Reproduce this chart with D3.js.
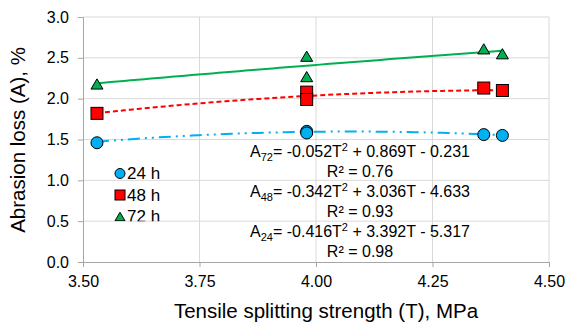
<!DOCTYPE html>
<html lang="en">
<head>
<meta charset="UTF-8">
<title>Abrasion loss vs tensile splitting strength</title>
<script src="https://d3js.org/d3.v7.min.js"></script>
<style>
    body { margin: 0; background: #fff; }
    svg { display: block; font-family: Arial, "Liberation Sans", sans-serif; }
</style>
</head>
<body>
<svg id="chart" width="566" height="324"></svg>
<script>
    // data
    const strength = [3.53, 3.98, 3.98, 4.36, 4.40];
    const loss24 = [1.46, 1.60, 1.58, 1.56, 1.55];
    const loss48 = [1.82, 2.08, 1.99, 2.13, 2.10];
    const loss72 = [2.18, 2.52, 2.27, 2.61, 2.55];

    // trend line coefficients from the equations [a, b, c] for aT^2 + bT + c
    const fit24 = [-0.416, 3.392, -5.317];
    const fit48 = [-0.342, 3.036, -4.633];
    const fit72 = [-0.052, 0.869, -0.231];
    const rSquared = ['0.98', '0.93', '0.76'];

    const xTicks = [3.50, 3.75, 4.00, 4.25, 4.50];
    const yTicks = [0.0, 0.5, 1.0, 1.5, 2.0, 2.5, 3.0];

    const width = 566, height = 324;
    const margin = {top: 17, right: 17, bottom: 62, left: 83};

    const svg = d3.select('#chart');

    const x = d3.scaleLinear().domain([3.5, 4.5]).range([margin.left, width - margin.right]);
    const y = d3.scaleLinear().domain([0, 3]).range([height - margin.bottom, margin.top]);

    // grid
    svg.append('g').selectAll('line')
        .data(yTicks.slice(1))
        .enter().append('line')
        .attr('x1', x(3.5)).attr('x2', x(4.5))
        .attr('y1', d => y(d)).attr('y2', d => y(d))
        .attr('stroke', '#d9d9d9').attr('stroke-width', 1);
    svg.append('g').selectAll('line')
        .data(xTicks.slice(1))
        .enter().append('line')
        .attr('x1', d => x(d)).attr('x2', d => x(d))
        .attr('y1', y(0)).attr('y2', y(3))
        .attr('stroke', '#d9d9d9').attr('stroke-width', 1);

    // axes
    const xAxis = svg.append('g')
        .attr('transform', `translate(0,${y(0)})`)
        .call(d3.axisBottom(x).tickValues(xTicks).tickFormat(d3.format('.2f')).tickSizeOuter(0).tickSize(5).tickPadding(9));
    const yAxis = svg.append('g')
        .attr('transform', `translate(${x(3.5)},0)`)
        .call(d3.axisLeft(y).tickValues(yTicks).tickFormat(d3.format('.1f')).tickSizeOuter(0).tickSize(5).tickPadding(9));
    [xAxis, yAxis].forEach(g => {
        g.select('.domain').attr('stroke', '#a6a6a6');
        g.selectAll('.tick line').attr('stroke', '#a6a6a6');
        g.selectAll('.tick text').attr('fill', '#000').style('font-size', '16px');
    });

    // axis titles
    svg.append('text')
        .attr('x', 326).attr('y', 318)
        .attr('text-anchor', 'middle')
        .style('font-size', '20.5px')
        .text('Tensile splitting strength (T), MPa');
    svg.append('text')
        .attr('transform', 'translate(25,140) rotate(-90)')
        .attr('text-anchor', 'middle')
        .style('font-size', '20.5px')
        .text('Abrasion loss (A), %');

    // trend lines
    const series = [
        {name: '24 h', vals: loss24, fit: fit24, color: '#00b0f0', dash: '12,5,2,5,2,5', shape: 'circle'},
        {name: '48 h', vals: loss48, fit: fit48, color: '#ff0000', dash: '5,3', shape: 'square'},
        {name: '72 h', vals: loss72, fit: fit72, color: '#00b050', dash: null, shape: 'triangle'}
    ];

    const tMin = d3.min(strength), tMax = d3.max(strength);
    const tSteps = d3.range(0, 61).map(i => tMin + (tMax - tMin) * i / 60);
    const line = d3.line().x(d => x(d[0])).y(d => y(d[1]));

    series.forEach(s => {
        const pts = tSteps.map(t => [t, s.fit[0] * t * t + s.fit[1] * t + s.fit[2]]);
        svg.append('path')
            .datum(pts)
            .attr('d', line)
            .attr('fill', 'none')
            .attr('stroke', s.color)
            .attr('stroke-width', 2)
            .attr('stroke-dasharray', s.dash);
    });

    // markers
    const marker = (g, shape, size, color) => {
        if (shape === 'circle') {
            g.append('circle').attr('r', size / 2);
        } else if (shape === 'square') {
            g.append('rect').attr('x', -size / 2).attr('y', -size / 2).attr('width', size).attr('height', size);
        } else {
            const h = size / 2;
            g.append('path').attr('d', `M0,${-h * 0.85}L${h},${h * 0.85}L${-h},${h * 0.85}Z`);
        }
        g.selectAll('*').attr('fill', color).attr('stroke', '#000').attr('stroke-width', 1);
    };

    series.forEach(s => {
        s.vals.forEach((v, i) => {
            const g = svg.append('g').attr('transform', `translate(${x(strength[i])},${y(v)})`);
            marker(g, s.shape, 12, s.color);
        });
    });

    // legend, its bottom is cut at the 0.5 gridline like the original
    svg.append('clipPath').attr('id', 'legclip')
        .append('rect').attr('x', 100).attr('y', 160).attr('width', 80).attr('height', y(0.5) - 160);
    const legend = svg.append('g').attr('clip-path', 'url(#legclip)');
    series.forEach((s, i) => {
        const ly = 173.5 + i * 21.5;
        const g = legend.append('g').attr('transform', `translate(120,${ly})`);
        marker(g, s.shape, 10, s.color);
        legend.append('text')
            .attr('x', 127).attr('y', ly + 5.5)
            .style('font-size', '17px')
            .text(s.name);
    });

    // equations
    const fmt = d3.format('.3f');
    const eqs = [
        {sub: '72', fit: fit72, r2: rSquared[2], y: 157},
        {sub: '48', fit: fit48, r2: rSquared[1], y: 197},
        {sub: '24', fit: fit24, r2: rSquared[0], y: 237}
    ];
    eqs.forEach(e => {
        const t = svg.append('text')
            .attr('x', 360).attr('y', e.y)
            .attr('text-anchor', 'middle')
            .style('font-size', '16px');
        t.append('tspan').text('A');
        t.append('tspan').attr('dy', 4).style('font-size', '11px').text(e.sub);
        t.append('tspan').attr('dy', -4).text('= ' + fmt(e.fit[0]).replace('−', '-') + 'T');
        t.append('tspan').attr('dy', -6).style('font-size', '11px').text('2');
        t.append('tspan').attr('dy', 6)
            .text(' + ' + fmt(e.fit[1]) + 'T - ' + fmt(-e.fit[2]));
        svg.append('text')
            .attr('x', 360).attr('y', e.y + 19.5)
            .attr('text-anchor', 'middle')
            .style('font-size', '16px')
            .text('R² = ' + e.r2);
    });
</script>
</body>
</html>
